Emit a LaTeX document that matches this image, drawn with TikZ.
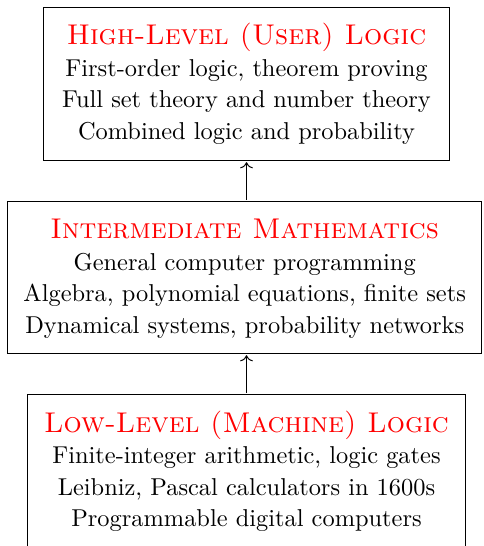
\documentclass[tikz,border=0pt]{standalone}
\usepackage{xcolor}
\usetikzlibrary{arrows.meta}
\begin{document}
\begin{tikzpicture}[x=1pt,y=-1pt,
  levelbox/.style={draw, line width=1pt, scale=2.44, transform shape, align=center,
    inner sep=0pt, font=\fontsize{10}{12.91}\selectfont},
  conn/.style={-{To[scale=1.6]}, line width=1pt}]
\useasboundingbox (0,0) rectangle (483,546);
\clip (0,0) rectangle (483,546);
\newcommand{\toprule}{\rule{0pt}{10pt}}
\newcommand{\botrule}{\rule[-3.24pt]{0pt}{3.24pt}}
\newcommand{\lvltitle}[1]{{\fontsize{11.7}{12.91}\selectfont\textcolor{red}{\textsc{#1}}}}
\node[levelbox, minimum width=166pt, minimum height=63.1pt] (top) at (246.5,84)
  {\toprule\lvltitle{High-Level (User) Logic}\\
   First-order logic, theorem proving\\
   Full set theory and number theory\\
   Combined logic and probability\botrule};
\node[levelbox, minimum width=194.5pt, minimum height=62.7pt] (mid) at (244.7,277.5)
  {\toprule\lvltitle{Intermediate Mathematics}\\
   General computer programming\\
   Algebra, polynomial equations, finite sets\\
   Dynamical systems, probability networks\botrule};
\node[levelbox, minimum width=179.9pt, minimum height=63.1pt] (low) at (246.5,471)
  {\toprule\lvltitle{Low-Level (Machine) Logic}\\
   Finite-integer arithmetic, logic gates\\
   Leibniz, Pascal calculators in 1600s\\
   Programmable digital computers\botrule};
\draw[conn] (mid.north -| top.south) -- (top.south);
\draw[conn] (low.north) -- (low.north |- mid.south);
\end{tikzpicture}
\end{document}
